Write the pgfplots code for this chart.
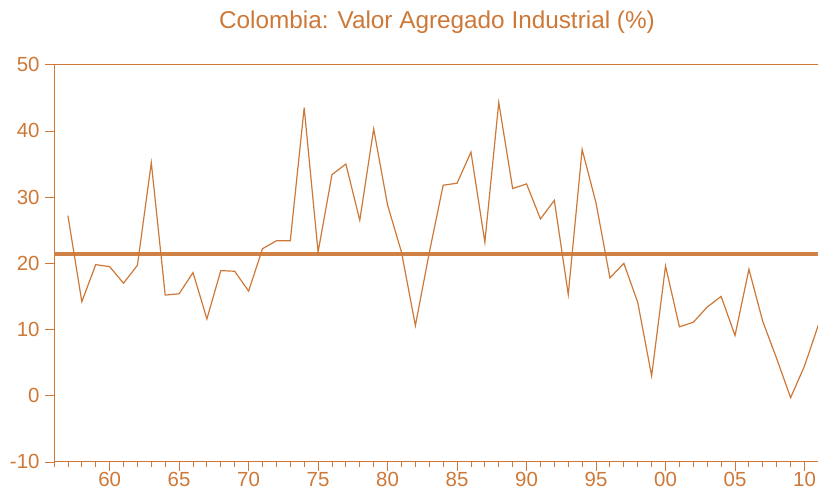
\documentclass[border=0pt]{standalone}
\usepackage{fontspec}
\setmainfont{Liberation Sans}
\usepackage{pgfplots}
\pgfplotsset{compat=1.18}
\definecolor{ora}{RGB}{205,120,55}
\definecolor{oram}{RGB}{208,130,70}
\begin{document}
\begin{tikzpicture}[x=1bp,y=1bp]
\path[use as bounding box] (-54,-28.3) rectangle (763.6,461.7);
\begin{axis}[at={(0,0)}, anchor=south west, scale only axis,
  width=764bp, height=397bp,
  xmin=1956, xmax=2011, ymin=-10, ymax=50,
  axis line style={ora, line width=0.9pt},
  xtick={1960,1965,...,2010},
  xticklabels={60,65,70,75,80,85,90,95,00,05,10},
  minor xtick={1956,...,2011},
  ytick={-10,0,...,50},
  tick align=outside, xtick pos=bottom, ytick pos=left,
  major tick length=9bp, minor tick length=5bp,
  tick style={ora, line width=0.8pt},
  ticklabel style={ora, font=\fontsize{20.5}{20.5}\selectfont},
  yticklabel style={xshift=-2bp},
  xticklabel style={yshift=2.5bp},
  /pgf/number format/assume math mode=true,
  title={Colombia: Valor Agregado Industrial (\%)},
  title style={ora, font=\fontsize{24.4}{24.4}\selectfont, at={(axis description cs:0.501,1)}, anchor=center, yshift=36.7bp},
]
\addplot[oram, line width=4bp] coordinates {(1956,21.4) (2011,21.4)};
\addplot[ora, line width=1.2pt] coordinates {
(1957,27.2) (1958,14.2) (1959,19.8) (1960,19.5) (1961,17.0) (1962,19.7)
(1963,35.2) (1964,15.2) (1965,15.4) (1966,18.6) (1967,11.6) (1968,18.9)
(1969,18.8) (1970,15.8) (1971,22.2) (1972,23.4) (1973,23.4) (1974,43.5)
(1975,21.7) (1976,33.4) (1977,35.0) (1978,26.5) (1979,40.3) (1980,28.8)
(1981,21.7) (1982,10.6) (1983,21.6) (1984,31.8) (1985,32.1) (1986,36.8)
(1987,23.2) (1988,44.3) (1989,31.3) (1990,32.0) (1991,26.7) (1992,29.5)
(1993,15.3) (1994,37.2) (1995,29.1) (1996,17.8) (1997,20.0) (1998,14.1)
(1999,3.0) (2000,19.6) (2001,10.4) (2002,11.1) (2003,13.4) (2004,15.0)
(2005,9.1) (2006,19.1) (2007,11.2) (2008,5.6) (2009,-0.3) (2010,4.5)
(2011,10.7)};
\end{axis}
\end{tikzpicture}
\end{document}
